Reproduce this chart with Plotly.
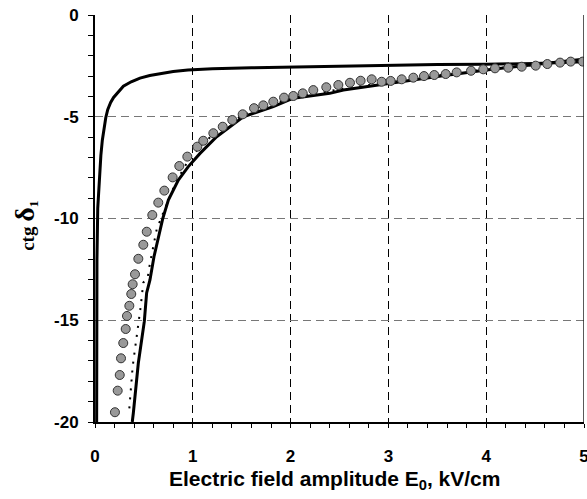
import plotly.graph_objects as go

# Steep solid curve (upper branch)
e_fast = [0.017, 0.018, 0.02, 0.028, 0.045, 0.06, 0.075, 0.09, 0.11, 0.13, 0.16, 0.19,
          0.24, 0.29, 0.37, 0.46, 0.56, 0.67, 0.8, 0.95, 1.2, 1.6, 2.0, 2.5, 3.0, 3.5,
          4.0, 4.5, 5.0]
ctg_fast = [-20, -16, -12, -9.5, -7.8, -6.9, -6.15, -5.6, -5.05, -4.65, -4.3, -4.05,
            -3.75, -3.5, -3.28, -3.1, -2.97, -2.87, -2.78, -2.7, -2.64, -2.59, -2.55,
            -2.5, -2.46, -2.43, -2.42, -2.38, -2.3]

# Solid curve (lower branch)
e_slow = [0.381, 0.392, 0.443, 0.504, 0.518, 0.528, 0.562, 0.603, 0.692, 0.75, 0.852,
          0.954, 1.074, 1.244, 1.516, 1.823, 2.028, 2.40, 2.54, 3.0, 3.5, 4.0, 4.5, 4.99]
ctg_slow = [-20, -19.56, -17.1, -15.07, -14.25, -13.66, -13.02, -11.88, -10.02, -9.09,
            -8.11, -7.45, -6.8, -5.98, -5.0, -4.5, -4.09, -3.85, -3.69, -3.36, -3.02,
            -2.7, -2.45, -2.18]

# Dotted curve
e_dot = [0.351, 0.375, 0.385, 0.409, 0.433, 0.45, 0.467, 0.494, 0.539, 0.562, 0.631,
         0.682, 0.726, 0.75, 0.80, 0.87, 0.96, 1.08, 1.2, 1.35, 1.55, 1.8, 2.1, 2.5,
         3.0, 3.5, 4.0, 4.5, 5.0]
ctg_dot = [-19.33, -17.85, -17.28, -16.41, -15.59, -14.79, -14.33, -13.15, -12.89,
           -12.2, -10.53, -9.91, -9.42, -9.09, -8.52, -7.85, -7.1, -6.45, -5.9, -5.35,
           -4.85, -4.38, -4.0, -3.65, -3.3, -2.98, -2.67, -2.45, -2.22]

# Measured points (circles)
e_meas = [0.204, 0.232, 0.253, 0.266, 0.289, 0.314, 0.327, 0.351, 0.371, 0.385, 0.409,
          0.443, 0.494, 0.529, 0.586, 0.647, 0.709, 0.794, 0.862, 0.944, 1.046, 1.107,
          1.210, 1.306, 1.404, 1.510, 1.626, 1.721, 1.823, 1.933, 2.028, 2.124, 2.232,
          2.365, 2.488, 2.607, 2.716, 2.829, 2.931, 3.023, 3.136, 3.255, 3.364, 3.469,
          3.586, 3.698, 3.845, 3.970, 4.090, 4.226, 4.363, 4.506, 4.625, 4.755, 4.864,
          4.987]
ctg_meas = [-19.52, -18.46, -17.69, -16.87, -16.12, -15.43, -14.79, -14.29, -13.71,
            -13.23, -12.74, -11.98, -11.29, -10.65, -9.83, -9.22, -8.63, -7.98, -7.42,
            -6.96, -6.47, -6.18, -5.81, -5.49, -5.16, -4.88, -4.58, -4.44, -4.26, -4.06,
            -3.98, -3.85, -3.69, -3.55, -3.44, -3.33, -3.23, -3.16, -3.28, -3.24, -3.16,
            -3.08, -3.00, -2.95, -2.90, -2.82, -2.74, -2.67, -2.62, -2.59, -2.54, -2.49,
            -2.41, -2.34, -2.29, -2.29]

x_ticks = [0, 1, 2, 3, 4, 5]
y_ticks = [0, -5, -10, -15, -20]

tick_font = dict(family="Liberation Sans, Arial, sans-serif", size=17, color="#000")
title_font = dict(family="Liberation Sans, Arial, sans-serif", size=21, color="#000")

fig = go.Figure()
fig.add_trace(go.Scatter(x=e_fast, y=ctg_fast, mode="lines",
                         line=dict(color="#000", width=3), showlegend=False))
fig.add_trace(go.Scatter(x=e_slow, y=ctg_slow, mode="lines",
                         line=dict(color="#000", width=3), showlegend=False))
fig.add_trace(go.Scatter(x=e_dot, y=ctg_dot, mode="lines",
                         line=dict(color="#000", width=2, dash="2px,7px"),
                         showlegend=False))
fig.add_trace(go.Scatter(x=e_meas, y=ctg_meas, mode="markers",
                         marker=dict(size=9, color="#999999",
                                     line=dict(color="#333", width=1)),
                         showlegend=False))

# right frame edge
fig.add_shape(type="line", x0=5, x1=5, y0=-20, y1=0, xref="x", yref="y",
              line=dict(color="#222", width=1.5), layer="above")

fig.update_layout(
    width=587, height=499,
    margin=dict(l=95, r=3, t=15, b=77, autoexpand=False),
    paper_bgcolor="white", plot_bgcolor="white",
    xaxis=dict(range=[0, 5], tickvals=x_ticks,
               ticktext=[f"<b>{v}</b>" for v in x_ticks],
               ticks="outside", ticklen=4, tickwidth=1, tickcolor="#000",
               showline=True, linecolor="#000", linewidth=2,
               showgrid=True, gridcolor="#000", gridwidth=1, griddash="8px,5px",
               zeroline=False, tickfont=tick_font, ticklabelstandoff=14,
               ticklabeloverflow="allow", automargin=False,
               minor=dict(dtick=0.2, ticks="outside", ticklen=4, tickcolor="#000",
                          showgrid=False)),
    yaxis=dict(range=[-20, 0], tickvals=y_ticks,
               ticktext=[f"<b>{v}</b>" for v in y_ticks],
               ticks="outside", ticklen=5, tickwidth=1, tickcolor="#000",
               showline=True, linecolor="#000", linewidth=2,
               showgrid=True, gridcolor="#777", gridwidth=1, griddash="8px,5px",
               zeroline=False, tickfont=tick_font, ticklabelstandoff=6,
               automargin=False,
               minor=dict(dtick=1, ticks="outside", ticklen=5, tickcolor="#000",
                          showgrid=False)),
    annotations=[
        dict(text="<b>Electric field amplitude E<sub>0</sub>, kV/cm</b>",
             xref="paper", yref="paper", x=0.49, y=0, xanchor="center",
             yanchor="middle", yshift=-58, showarrow=False, font=title_font),
        dict(text="<b>ctg <span style='font-size:28px'>δ</span><sub>1</sub></b>",
             xref="paper", yref="paper", x=0, y=0.482, xanchor="center",
             yanchor="middle", xshift=-70, textangle=-90, showarrow=False,
             font=dict(family="Liberation Serif, Times New Roman, serif", size=19,
                       color="#000")),
    ],
)

fig.write_html("out.html")
